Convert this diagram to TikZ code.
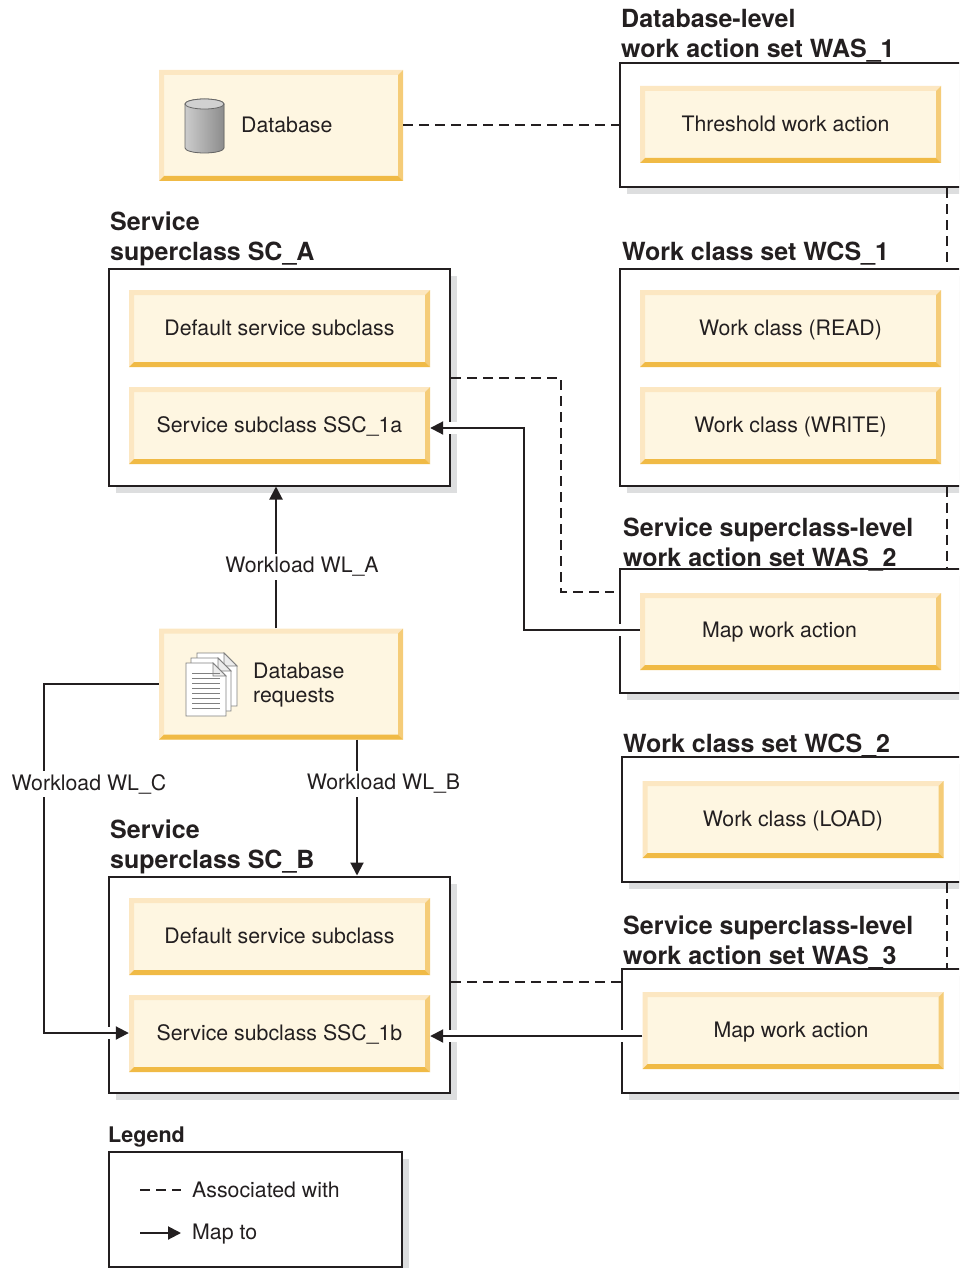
\documentclass[tikz,border=0pt]{standalone}
\usepackage{fontspec}
\setmainfont{TeX Gyre Heros}
\usetikzlibrary{calc}
\usetikzlibrary{arrows.meta}
\usetikzlibrary{shadows}
\definecolor{inkblack}{HTML}{231F20}
\definecolor{bevelface}{HTML}{FEF6E1}
\definecolor{beveltop}{HTML}{FCE7C2}
\definecolor{bevelright}{HTML}{F5CC78}
\definecolor{bevelbottom}{HTML}{F0BA45}
\definecolor{shadowgray}{HTML}{DDDEDF}
\newcommand{\docpage}[2]{
	\draw[page] (#1,#2) -- ++(27,0) -- ++(13,13) -- ++(0,40) -- ++(-40,0) -- cycle;
	\draw[page, fill=gray!15] (#1+27,#2) -- ++(0,13) -- ++(13,0) -- cycle;
}

\begin{document}
\begin{tikzpicture}[
			x=1pt, y=-1pt,
			every node/.style={text=inkblack, font=\fontsize{21.3}{27}\selectfont, inner sep=0pt},
			bevel/.style={minimum width=301, minimum height=77, fill=bevelface, text depth=2pt,
				path picture={
					\coordinate (sw) at (path picture bounding box.south west);
					\coordinate (ne) at (path picture bounding box.north east);
					\coordinate (nw) at (path picture bounding box.north west);
					\coordinate (se) at (path picture bounding box.south east);
					\fill[beveltop] (sw) -- (nw) -- (ne) -- ($(ne)+(-5,5)$) -- ($(nw)+(5,5)$) -- ($(sw)+(5,-5)$) -- cycle;
					\fill[bevelright] (ne) -- (se) -- ($(se)+(-5,-5)$) -- ($(ne)+(-5,5)$) -- cycle;
					\fill[bevelbottom] (sw) -- (se) -- ($(se)+(-5,-5)$) -- ($(sw)+(5,-5)$) -- cycle;
				}},
			bigbevel/.style={bevel, minimum width=244, minimum height=111},
			boxtext/.style={text depth=2pt},
			setbox/.style={draw=inkblack, line width=2pt, fill=white,
				general shadow={shadow xshift=7pt, shadow yshift=-7pt, fill=shadowgray}},
			title/.style={font=\fontsize{25}{30}\selectfont\bfseries, align=left, anchor=north west},
			assoc/.style={draw=inkblack, line width=2pt, dash pattern=on 10pt off 6pt},
			flow/.style={draw=inkblack, line width=2pt, >={Triangle[length=13pt,width=13pt]}},
			halo/.style={draw=white, line width=12pt},
			wlabel/.style={fill=white, inner ysep=3pt},
			page/.style={draw=gray, line width=0.8pt, fill=white}
			]
			\useasboundingbox (0,0) rectangle (959,1268);
			\clip (0,0) rectangle (959,1268);
			
			%% Sets on the left
			\node[setbox, minimum width=341, minimum height=217] (sca) at (279.5,377) {};
			\node[setbox, minimum width=341, minimum height=216] (scb) at (279.5,984.5) {};
			\node[setbox, minimum width=293, minimum height=115] (legendbox) at (255.5,1209) {};
			
			%% Sets on the right, they run off the page
			\node[setbox, minimum width=360, minimum height=124] (was1) at (800,125) {};
			\node[setbox, minimum width=360, minimum height=217] (wcs1) at (800,377) {};
			\node[setbox, minimum width=360, minimum height=124] (was2) at (800,631) {};
			\node[setbox, minimum width=360, minimum height=125] (wcs2) at (802,819.5) {};
			\node[setbox, minimum width=360, minimum height=124] (was3) at (802,1031) {};
			
			%% Titles
			\node[title] (wastitle1) at (621,9.5) {Database-level\\work action set WAS\_1};
			\node[title] (sctitlea) at (110,212) {Service\\superclass SC\_A};
			\node[title] (wcstitle1) at (622,242) {Work class set WCS\_1};
			\node[title] (wastitle2) at (623,517.5) {Service superclass-level\\work action set WAS\_2};
			\node[title] (wcstitle2) at (623,734) {Work class set WCS\_2};
			\node[title] (sctitleb) at (110,820) {Service\\superclass SC\_B};
			\node[title] (wastitle3) at (623,915.5) {Service superclass-level\\work action set WAS\_3};
			\node[title, font=\fontsize{21.5}{26}\selectfont\bfseries] (legendtitle) at (108,1127) {Legend};
			
			%% Boxes
			\node[bigbevel] (db) at (281,125.5) {};
			\node[anchor=west] (dbtext) at (241,125) {Database};
			\node[bigbevel] (dbreq) at (281,684) {};
			\node[anchor=west, align=left, font=\fontsize{21.3}{24}\selectfont] (dbreqtext) at (253,685) {Database\\requests};
			
			\node[bevel] (threshold) at (790.5,124.5) {};
			\node[boxtext] (thresholdtext) at (785.5,124.5) {Threshold work action};
			\node[bevel] (defa) at (279.5,328.5) {Default service subclass};
			\node[bevel] (ssca) at (279.5,425.5) {Service subclass SSC\_1a};
			\node[bevel] (read) at (790.5,328.5) {Work class (READ)};
			\node[bevel] (write) at (790.5,425.5) {Work class (WRITE)};
			\node[bevel] (mapa) at (790.5,631.5) {};
			\node[boxtext] (mapatext) at (779.5,631) {Map work action};
			\node[bevel] (load) at (793,819.5) {Work class (LOAD)};
			\node[bevel] (defb) at (279.5,936.5) {Default service subclass};
			\node[bevel] (sscb) at (279.5,1033.5) {Service subclass SSC\_1b};
			\node[bevel] (mapb) at (793,1030.5) {};
			\node[boxtext] (mapbtext) at (791,1030.5) {Map work action};
			
			%% Cylinder
			\fill[left color=black!20, right color=black!45, draw=black!60, line width=0.8pt]
				(185,104) -- (185,148) arc (180:0:19.5 and 5) -- (224,104) arc (0:-180:19.5 and 5) -- cycle;
			\draw[fill=black!18, draw=black!60, line width=0.8pt] (204.5,104) ellipse (19.5 and 5);
			
			%% Pages
			\docpage{197}{653}
			\docpage{191}{658}
			\docpage{186}{663}
			\foreach \y in {673,678,...,708} {
				\draw[gray, line width=0.7pt] (192,\y) -- (220,\y);
			}
			
			%% Associated with
			\draw[assoc] (db.east) -- (was1.west |- db.east);
			\coordinate (dashx) at (947,0);
			\draw[assoc] (dashx |- was1.south) -- (dashx |- wcs1.north);
			\draw[assoc] (dashx |- wcs1.south) -- (dashx |- was2.north);
			\draw[assoc] (dashx |- wcs2.south) -- (dashx |- was3.north);
			\coordinate (assocaend) at (614,592);
			\coordinate (assocbcorner) at (561,378);
			\draw[assoc] (sca.east |- assocbcorner) -- (assocbcorner) |- (assocaend);
			\coordinate (assocb) at (0,982);
			\draw[assoc] (scb.east |- assocb) -- (was3.west |- assocb);
			
			%% Map to
			\coordinate (mapay) at (0,630);
			\coordinate (mapaturn) at (524,428);
			\draw[halo] (mapa.west |- mapay) -| (mapaturn) -- (ssca.east |- mapaturn);
			\draw[flow, ->] (mapa.west |- mapay) -| (mapaturn) -- (ssca.east |- mapaturn);
			
			\coordinate (mapby) at (0,1036);
			\draw[halo] (mapb.west |- mapby) -- (sscb.east |- mapby);
			\draw[flow, ->] (mapb.west |- mapby) -- (sscb.east |- mapby);
			
			\coordinate (wlax) at (276,0);
			\draw[flow, ->] (wlax |- dbreq.north) -- (wlax |- sca.south);
			\node[wlabel] (wla) at (302,567) {Workload WL\_A};
			
			\coordinate (wlbx) at (357,0);
			\draw[flow, ->] (wlbx |- dbreq.south) -- (wlbx |- scb.north);
			\node[wlabel] (wlb) at (383.5,784) {Workload WL\_B};
			
			\coordinate (wlcx) at (44,0);
			\coordinate (wlcy) at (0,1033);
			\draw[halo] (wlcx |- sscb.north) |- (sscb.west |- wlcy);
			\draw[flow, ->] (dbreq.west) -| (wlcx |- wlcy) -- (sscb.west |- wlcy);
			\node[wlabel] (wlc) at (89,784) {Workload WL\_C};
			
			%% Legend
			\coordinate (keya) at (140,1190);
			\coordinate (keyb) at (140,1233);
			\node[anchor=west] (keyatext) at (192,1189.5) {Associated with};
			\node[anchor=west] (keybtext) at (192,1234.5) {Map to};
			\draw[assoc] (keya) -- ($(keya)+(41,0)$);
			\draw[flow, ->] (keyb) -- ($(keyb)+(41,0)$);
			
			\end{tikzpicture}
\end{document}
